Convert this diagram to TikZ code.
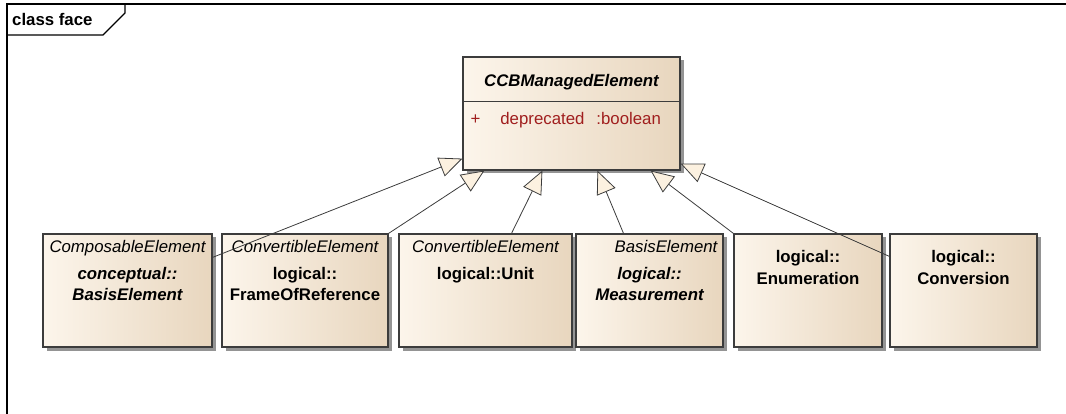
\documentclass[tikz,border=0pt]{standalone}
\usepackage{fontspec}
\setmainfont{Liberation Sans}
\usetikzlibrary{arrows.meta,shadows}
\definecolor{Box-L}{RGB}{252,245,235}
\definecolor{Box-R}{RGB}{232,214,190}
\definecolor{Head-F}{RGB}{252,241,224}
\definecolor{Edge-D}{RGB}{60,60,60}
\definecolor{Attr-R}{RGB}{160,30,30}

\begin{document}
\begin{tikzpicture}[x=1pt,y=-1pt,font=\fontsize{16.8}{20}\selectfont,
    classbox/.style={draw=Edge-D, line width=1.2pt, left color=Box-L, right color=Box-R,
        minimum height=113pt, inner sep=0pt,
        drop shadow={shadow xshift=3.5pt, shadow yshift=-3.5pt, fill=black!60, opacity=0.7}},
    stereo/.style={anchor=base, inner sep=0pt, font=\fontsize{16.8}{20}\selectfont\itshape},
    cname/.style={anchor=base, inner sep=0pt, font=\fontsize{16.8}{20}\selectfont\bfseries},
    aname/.style={anchor=base, inner sep=0pt, font=\fontsize{16.8}{20}\selectfont\bfseries\itshape},
    gen/.style={draw=Edge-D, line width=0.8pt, -{Triangle[length=23pt,width=20pt,fill=Head-F]}}]

    \useasboundingbox (0,0) rectangle (1066,414);

    % diagram frame with its name tab
    \draw[line width=1.6pt] (7,414) -- (7,4) -- (1066,4);
    \draw[line width=1.2pt] (7,35) -- (103,35) -- (125,13) -- (125,4);
    \node[anchor=base west, inner sep=0pt, font=\fontsize{16.8}{20}\selectfont\bfseries] (frametitle) at (12,26) {class face};

    % abstract parent class
    \node[classbox, minimum width=217pt] (managed) at (571.5,113.5) {};
    \draw[Edge-D, line width=1.2pt] ([yshift=-45pt]managed.north west) -- ([yshift=-45pt]managed.north east);
    \node[aname] (managedname) at ([yshift=-30pt]managed.north) {CCBManagedElement};
    \node[anchor=base west, inner sep=0pt, text=Attr-R] (managedattr) at ([xshift=8pt,yshift=-68pt]managed.north west) {+\hspace{20pt}deprecated\hspace{12pt}:boolean};

    % child classes
    \node[classbox, minimum width=169pt] (cbasis) at (127.5,290.5) {};
    \node[stereo] (cbasisst) at ([yshift=-19pt]cbasis.north) {ComposableElement};
    \node[aname] (cbasisa) at ([yshift=-46pt]cbasis.north) {conceptual::};
    \node[aname] (cbasisb) at ([yshift=-67pt]cbasis.north) {BasisElement};

    \node[classbox, minimum width=166pt] (frameref) at (305,290.5) {};
    \node[stereo] (framerefst) at ([yshift=-19pt]frameref.north) {ConvertibleElement};
    \node[cname] (framerefa) at ([yshift=-46pt]frameref.north) {logical::};
    \node[cname] (framerefb) at ([yshift=-67pt]frameref.north) {FrameOfReference};

    \node[classbox, minimum width=173pt] (unit) at (485.5,290.5) {};
    \node[stereo] (unitst) at ([yshift=-19pt]unit.north) {ConvertibleElement};
    \node[cname] (unita) at ([yshift=-46pt]unit.north) {logical::Unit};

    \node[classbox, minimum width=147pt] (measure) at (649.5,290.5) {};
    \node[stereo, anchor=base east] (measurest) at ([xshift=-6pt,yshift=-19pt]measure.north east) {BasisElement};
    \node[aname] (measurea) at ([yshift=-46pt]measure.north) {logical::};
    \node[aname] (measureb) at ([yshift=-67pt]measure.north) {Measurement};

    \node[classbox, minimum width=148pt] (enumer) at (808,290.5) {};
    \node[cname] (enumera) at ([yshift=-29pt]enumer.north) {logical::};
    \node[cname] (enumerb) at ([yshift=-51pt]enumer.north) {Enumeration};

    \node[classbox, minimum width=147pt] (convers) at (963.5,290.5) {};
    \node[cname] (conversa) at ([yshift=-29pt]convers.north) {logical::};
    \node[cname] (conversb) at ([yshift=-51pt]convers.north) {Conversion};

    % generalizations
    \draw[gen] ([yshift=-24pt]cbasis.north east) -- ([yshift=12pt]managed.south west);
    \draw[gen] (frameref.north east) -- ([xshift=22pt]managed.south west);
    \draw[gen] ([xshift=26pt]unit.north) -- ([xshift=80pt]managed.south west);
    \draw[gen] ([xshift=-26pt]measure.north) -- ([xshift=135pt]managed.south west);
    \draw[gen] (enumer.north west) -- ([xshift=-30pt]managed.south east);
    \draw[gen] ([yshift=-23pt]convers.north west) -- ([yshift=7pt]managed.south east);

\end{tikzpicture}
\end{document}
